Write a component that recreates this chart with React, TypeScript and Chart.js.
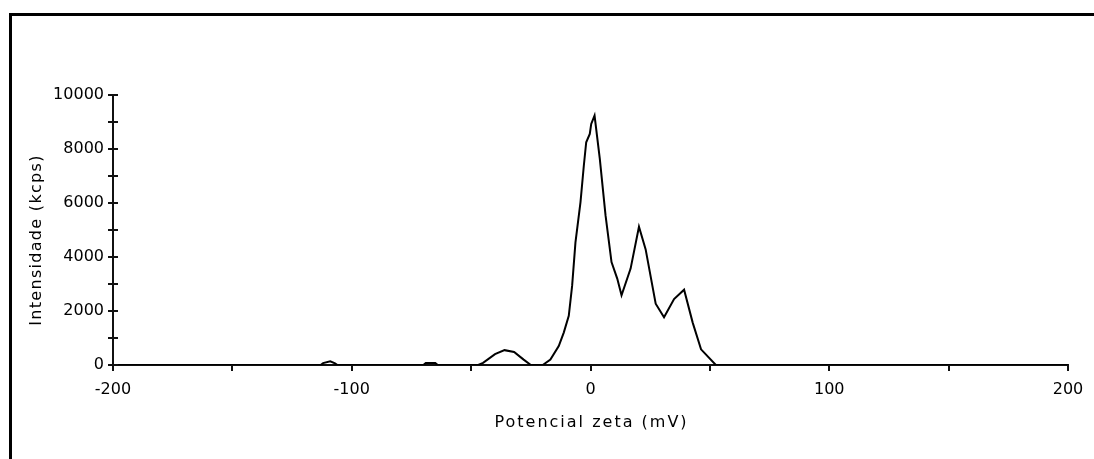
import React, { useEffect, useRef } from 'react';
import { Chart, registerables } from 'chart.js';

Chart.register(...registerables);

// Potencial zeta (mV)
const potential = [
  -200, -113, -112, -109, -107, -106, -70, -69, -65, -64,
  -47, -45, -40, -36, -32, -28, -25, -20, -16.8, -13.3,
  -11.2, -9.1, -7.7, -6.3, -4.2, -2.8, -1.8, -0.3, 0.3, 1.7,
  3.9, 6.3, 8.8, 11.2, 13, 16.8, 20.3, 23.1, 27.3, 30.8,
  35, 39.2, 42.8, 46.3, 52.5, 200,
];
// Intensidade (kcps)
const intensity = [
  0, 0, 70, 140, 60, 0, 0, 70, 70, 0,
  0, 80, 400, 550, 480, 200, 0, 0, 200, 700,
  1200, 1820, 2930, 4540, 6020, 7380, 8250, 8560, 8930, 9240,
  7630, 5540, 3810, 3200, 2580, 3570, 5120, 4280, 2270, 1770,
  2440, 2790, 1570, 580, 0, 0,
];

const xTickValues = [-200, -150, -100, -50, 0, 50, 100, 150, 200];
const xTickLabels = ['-200', '', '-100', '', '0', '', '100', '', '200'];
const yTickValues = [0, 1000, 2000, 3000, 4000, 5000, 6000, 7000, 8000, 9000, 10000];
const yTickLabels = ['0', '', '2000', '', '4000', '', '6000', '', '8000', '', '10000'];

const xTitle = 'Potencial zeta (mV)';
const yTitle = 'Intensidade (kcps)';

const FONT = '"DejaVu Sans", sans-serif';

const decorPlugin = {
  id: 'decor',
  afterDraw(chart: any) {
    const ctx = chart.ctx as CanvasRenderingContext2D;
    const area = chart.chartArea;
    const yScale = chart.scales.y;
    ctx.save();
    // inner halves of the y ticks
    ctx.strokeStyle = '#111';
    ctx.lineWidth = 2;
    yScale.ticks.forEach((t: any) => {
      const py = Math.round(yScale.getPixelForValue(t.value));
      ctx.beginPath();
      ctx.moveTo(area.left, py);
      ctx.lineTo(area.left + 5, py);
      ctx.stroke();
    });
    // titles
    ctx.fillStyle = '#000';
    ctx.font = `16px ${FONT}`;
    (ctx as any).letterSpacing = '2px';
    ctx.textAlign = 'center';
    ctx.textBaseline = 'alphabetic';
    ctx.fillText(xTitle, (area.left + area.right) / 2 + 1, area.bottom + 62);
    (ctx as any).letterSpacing = '1.3px';
    ctx.translate(37, area.top + 145);
    ctx.rotate(-Math.PI / 2);
    ctx.textBaseline = 'middle';
    ctx.fillText(yTitle, 0, 0);
    ctx.restore();
    // outer frame
    ctx.save();
    ctx.fillStyle = '#000';
    ctx.fillRect(9, 13, chart.width - 9, 3);
    ctx.fillRect(9, 13, 3, chart.height - 13);
    ctx.restore();
  },
};

export default function App() {
  const ref = useRef<HTMLCanvasElement | null>(null);
  useEffect(() => {
    if (!ref.current) return;
    const points = potential.map((x, i) => ({ x, y: intensity[i] }));
    const chart = new Chart(ref.current, {
      type: 'scatter',
      data: {
        datasets: [
          {
            data: points,
            showLine: true,
            borderColor: '#000',
            borderWidth: 2,
            pointRadius: 0,
            tension: 0,
            fill: false,
          },
        ],
      },
      options: {
        responsive: false,
        animation: false,
        devicePixelRatio: 1,
        layout: { padding: { left: 0, right: 26, top: 95, bottom: 0 } },
        plugins: { legend: { display: false }, tooltip: { enabled: false }, title: { display: false } },
        scales: {
          x: {
            type: 'linear',
            min: -200,
            max: 200,
            afterBuildTicks: (s: any) => {
              s.ticks = xTickValues.map((v) => ({ value: v }));
            },
            afterFit: (s: any) => {
              s.height = 94;
            },
            ticks: {
              autoSkip: false,
              maxRotation: 0,
              color: '#000',
              padding: 9,
              font: { family: FONT, size: 16 },
              callback: (v: any) => {
                const i = xTickValues.indexOf(Number(v));
                return i >= 0 ? xTickLabels[i] : '';
              },
            },
            grid: { display: true, drawOnChartArea: false, drawTicks: true, tickLength: 6, color: '#111', lineWidth: 2 },
            border: { display: true, color: '#111', width: 2 },
          },
          y: {
            type: 'linear',
            min: 0,
            max: 10000,
            afterBuildTicks: (s: any) => {
              s.ticks = yTickValues.map((v) => ({ value: v }));
            },
            afterFit: (s: any) => {
              s.width = 113;
            },
            ticks: {
              autoSkip: false,
              color: '#000',
              padding: 4,
              font: { family: FONT, size: 16 },
              callback: (v: any) => {
                const i = yTickValues.indexOf(Number(v));
                return i >= 0 ? yTickLabels[i] : '';
              },
            },
            grid: { display: true, drawOnChartArea: false, drawTicks: true, tickLength: 5, color: '#111', lineWidth: 2 },
            border: { display: true, color: '#111', width: 2 },
          },
        },
      },
      plugins: [decorPlugin],
    } as any);
    return () => chart.destroy();
  }, []);
  return (
    <div style={{ position: 'fixed', left: 0, top: 0, width: 1094, height: 459, background: '#fff' }}>
      <canvas ref={ref} width={1094} height={459} style={{ display: 'block', width: 1094, height: 459 }} />
    </div>
  );
}
